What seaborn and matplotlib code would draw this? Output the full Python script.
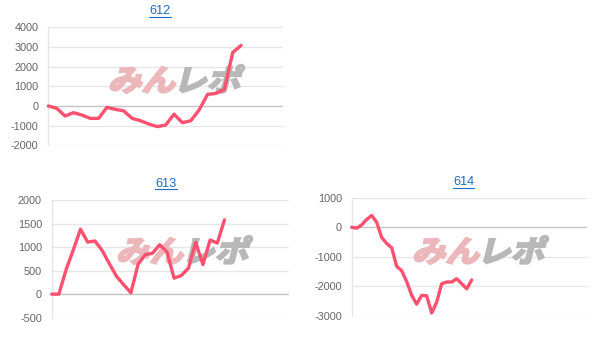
import numpy as np
import pandas as pd
import matplotlib
matplotlib.use("Agg")
import matplotlib.pyplot as plt
import seaborn as sns
from matplotlib.textpath import TextPath
from matplotlib.patches import PathPatch
from matplotlib.font_manager import FontProperties
import matplotlib.transforms as mtrans
from matplotlib.lines import Line2D

# ---- data ----
titles = ["612", "613", "614"]
values_612 = [0, -120, -510, -340, -460, -630, -630, -70, -170, -250, -630, -750,
              -920, -1050, -970, -420, -850, -750, -200, 590, 640, 840, 2720, 3080]
values_613 = [0, 0, 520, 940, 1380, 1105, 1130, 930, 650, 380, 200, 30, 635, 840,
              870, 1050, 900, 340, 395, 555, 1100, 630, 1150, 1085, 1580]
values_614 = [0, -30, 80, 265, 400, 170, -345, -550, -690, -1320, -1470, -1840,
              -2300, -2600, -2300, -2320, -2900, -2530, -1910, -1850, -1850, -1740,
              -1910, -2080, -1780]
slots_612 = 29
slots_613 = 34
slots_614 = 48
yticks_612 = [-2000, -1000, 0, 1000, 2000, 3000, 4000]
yticks_613 = [-500, 0, 500, 1000, 1500, 2000]
yticks_614 = [-3000, -2000, -1000, 0, 1000]

LINE = "#ff5070"
GRID = "#e6e6e6"
ZERO = "#c4c4c4"
TICK = "#666666"
LINK = "#1a6dc8"

sns.set_style("white")
plt.rcParams["font.family"] = ["Liberation Sans", "DejaVu Sans"]

W, H = 596, 338
fig = plt.figure(figsize=(W / 100, H / 100), dpi=100)


def px_axes(l, t, r, b):
    return fig.add_axes([l / W, 1 - b / H, (r - l) / W, (b - t) / H])


def watermark(ax, cx, cy):
    fp = FontProperties(family="Noto Sans CJK JP", weight="bold")
    p1 = TextPath((0, 0), "みん", size=30, prop=fp)
    p2 = TextPath((0, 0), "レポ", size=30, prop=fp)
    e1 = p1.get_extents()
    e2 = p2.get_extents()
    sx = 1.12
    gap = 6
    w1 = (e1.x1 - e1.x0) * sx
    w2 = (e2.x1 - e2.x0) * sx
    total = w1 + gap + w2
    hgt = max(e1.y1, e2.y1) - min(e1.y0, e2.y0)
    x0 = cx - total / 2
    y0 = (H - cy) - hgt / 2 - min(e1.y0, e2.y0)
    for path, ext, xoff, col in [(p1, e1, x0, "#ebb7ba"), (p2, e2, x0 + w1 + gap, "#b8b8b8")]:
        tr = (mtrans.Affine2D().translate(-ext.x0, 0).scale(sx, 1)
              .skew_deg(14, 0).translate(xoff, y0))
        patch = PathPatch(path, facecolor=col, edgecolor=col, linewidth=1.6,
                          transform=tr, zorder=1, clip_on=False)
        ax.add_artist(patch)


def title_link(text, cx, cy):
    t = fig.text(cx / W, 1 - cy / H, text, ha="center", va="center",
                 fontsize=9.2, color=LINK)
    fig.canvas.draw()
    bb = t.get_window_extent()
    yl = bb.y0 + 0.5
    fig.add_artist(Line2D([bb.x0 / W, bb.x1 / W], [yl / H, yl / H],
                          transform=fig.transFigure, color=LINK, lw=0.8))


def panel(rect, values, slots, yticks, title, tpos, wpos):
    ax = px_axes(*rect)
    df = pd.DataFrame({"x": np.arange(len(values)), "y": values})
    watermark(ax, *wpos)
    sns.lineplot(data=df, x="x", y="y", ax=ax, color=LINE, linewidth=2.4,
                 zorder=3, clip_on=False)
    ax.set_xlim(0, slots - 1)
    ax.set_ylim(yticks[0], yticks[-1])
    ax.set_yticks(yticks)
    ax.set_yticklabels([str(v) for v in yticks])
    ax.set_xticks([])
    ax.set_xlabel("")
    ax.set_ylabel("")
    for v in yticks:
        ax.axhline(v, color=ZERO if v == 0 else GRID, lw=1.0, zorder=0.5)
    for s in ["top", "right", "bottom"]:
        ax.spines[s].set_visible(False)
    ax.spines["left"].set_color(GRID)
    ax.spines["left"].set_linewidth(1.0)
    ax.tick_params(axis="y", length=0, pad=7, labelsize=7.8, labelcolor=TICK)
    ax.patch.set_alpha(0)
    title_link(title, *tpos)
    return ax


panel((48.3, 27.3, 283, 145.3), values_612, slots_612, yticks_612, titles[0],
      (160, 11), (174, 79))
panel((51.7, 200, 289.3, 317.7), values_613, slots_613, yticks_613, titles[1],
      (166, 183.5), (182, 250))
panel((351.7, 197.7, 586.7, 316), values_614, slots_614, yticks_614, titles[2],
      (463.5, 182), (478, 250))

fig.savefig("out.png", dpi=100)
